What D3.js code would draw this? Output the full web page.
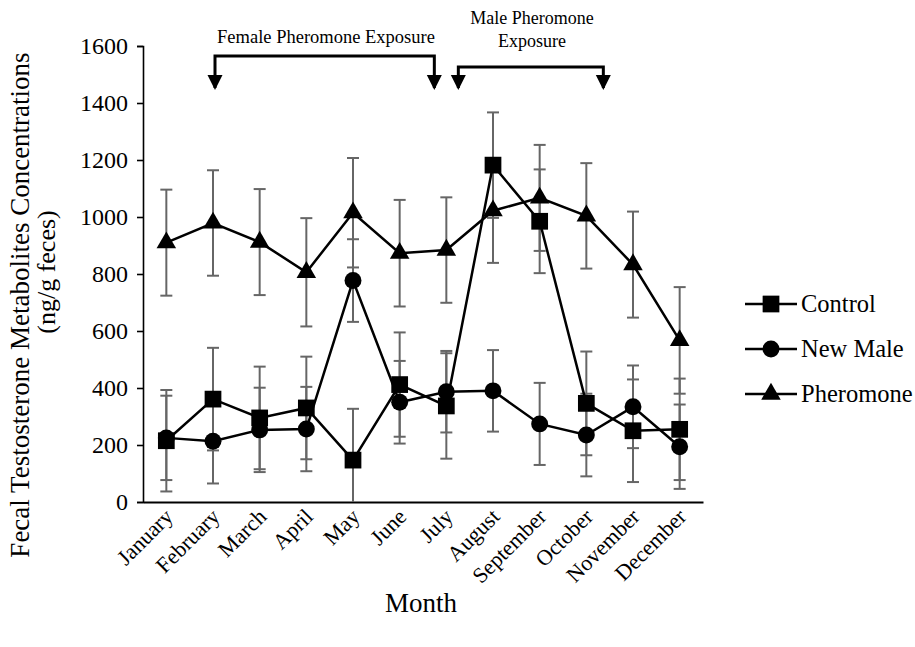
<!DOCTYPE html>
<html>
<head>
<meta charset="utf-8">
<script src="https://cdn.jsdelivr.net/npm/d3@7"></script>
<style>
  body { margin: 0; background: #fff; }
  svg text { font-family: "Liberation Serif", "Times New Roman", serif; fill: #000; }
</style>
</head>
<body>
<div id="chart"></div>
<script>
// Data
var months = ["January", "February", "March", "April", "May", "June",
              "July", "August", "September", "October", "November", "December"];
var yTicks = [0, 200, 400, 600, 800, 1000, 1200, 1400, 1600];

var controlMean = [215, 361, 295, 330, 147, 412, 337, 1182, 985, 346, 250, 255];
var controlErr  = [178, 180, 180, 180, 180, 183, 185, 185, 182, 182, 180, 178];

var newMaleMean = [225, 213, 253, 256, 777, 350, 387, 390, 274, 235, 334, 194];
var newMaleErr  = [148, 148, 148, 148, 145, 145, 143, 143, 144, 145, 145, 148];

var pheromoneMean = [910, 979, 912, 806, 1015, 873, 884, 1022, 1067, 1004, 833, 567];
var pheromoneErr  = [186, 185, 186, 190, 192, 187, 185, 183, 186, 185, 186, 187];

var seriesNames = ["Control", "New Male", "Pheromone"];

var serif = "'Liberation Serif', 'Times New Roman', serif";

// Set up the chart
var svgWidth = 915;
var svgHeight = 647;

var svg = d3.select("#chart")
    .append("svg")
    .attr("width", svgWidth)
    .attr("height", svgHeight);

var xScale = d3.scaleBand()
    .domain(months)
    .range([143, 703]);

var yScale = d3.scaleLinear()
    .domain([0, 1600])
    .range([502, 46])
    .clamp(true);

var cx = function(m) { return xScale(m) + xScale.bandwidth() / 2; };

var series = [
    { name: "Control", mean: controlMean, err: controlErr, shape: d3.symbolSquare },
    { name: "New Male", mean: newMaleMean, err: newMaleErr, shape: d3.symbolCircle },
    { name: "Pheromone", mean: pheromoneMean, err: pheromoneErr, shape: d3.symbolTriangle }
];
var symbolSize = { "Control": 280, "New Male": 225, "Pheromone": 165 };

// Axes
var leftAxis = d3.axisLeft(yScale)
    .tickValues(yTicks)
    .tickFormat(d3.format("d"))
    .tickSize(6)
    .tickPadding(9);
var yAxisG = svg.append("g")
    .attr("transform", "translate(143,0)")
    .call(leftAxis)
    .attr("font-family", serif);
yAxisG.select(".domain").attr("stroke", "#000").attr("stroke-width", 1.6);
yAxisG.selectAll(".tick line").attr("stroke", "#000").attr("stroke-width", 1.6);
yAxisG.selectAll(".tick text")
    .style("font-family", serif)
    .style("font-size", "24px");

var bottomAxis = d3.axisBottom(xScale).tickSize(0).tickFormat("");
var xAxisG = svg.append("g")
    .attr("transform", "translate(0,502)")
    .call(bottomAxis);
xAxisG.select(".domain").attr("stroke", "#000").attr("stroke-width", 2);

svg.selectAll(".monthLabel")
    .data(months)
    .enter()
    .append("text")
    .attr("class", "monthLabel")
    .attr("transform", d => `translate(${cx(d) + 8}, 518) rotate(-45)`)
    .attr("text-anchor", "end")
    .style("font-family", serif)
    .style("font-size", "22px")
    .text(d => d);

// Error bars
var capHalf = 6;
series.forEach(function(s) {
    var g = svg.append("g").attr("class", "err");
    months.forEach(function(m, i) {
        var x = cx(m);
        var lo = s.mean[i] - s.err[i];
        var hi = s.mean[i] + s.err[i];
        g.append("line")
            .attr("x1", x).attr("x2", x)
            .attr("y1", yScale(lo)).attr("y2", yScale(hi))
            .attr("stroke", "#666").attr("stroke-width", 2);
        g.append("line")
            .attr("x1", x - capHalf).attr("x2", x + capHalf)
            .attr("y1", yScale(hi)).attr("y2", yScale(hi))
            .attr("stroke", "#666").attr("stroke-width", 2);
        if (lo > 0) {
            g.append("line")
                .attr("x1", x - capHalf).attr("x2", x + capHalf)
                .attr("y1", yScale(lo)).attr("y2", yScale(lo))
                .attr("stroke", "#666").attr("stroke-width", 2);
        }
    });
});

// Lines
var line = d3.line()
    .x((d, i) => cx(months[i]))
    .y(d => yScale(d));

series.forEach(function(s) {
    svg.append("path")
        .datum(s.mean)
        .attr("d", line)
        .attr("fill", "none")
        .attr("stroke", "#000")
        .attr("stroke-width", 2.5);
});

// Markers
series.forEach(function(s) {
    svg.append("g").selectAll("path")
        .data(s.mean)
        .enter()
        .append("path")
        .attr("transform", (d, i) => `translate(${cx(months[i])}, ${yScale(d)})`)
        .attr("d", d3.symbol().type(s.shape).size(symbolSize[s.name]))
        .attr("fill", "#000");
});

// Legend
var legend = svg.append("g").attr("class", "legend");
var legendY = [304, 349, 394];
series.forEach(function(s, i) {
    var y = legendY[i];
    legend.append("line")
        .attr("x1", 745).attr("x2", 797)
        .attr("y1", y).attr("y2", y)
        .attr("stroke", "#000").attr("stroke-width", 2.5);
    legend.append("path")
        .attr("transform", `translate(771, ${y})`)
        .attr("d", d3.symbol().type(s.shape).size(symbolSize[s.name]))
        .attr("fill", "#000");
    legend.append("text")
        .attr("x", 801)
        .attr("y", y + 8)
        .style("font-family", serif)
        .style("font-size", "24.5px")
        .text(seriesNames[i]);
});

// Axis titles
svg.append("text")
    .attr("x", 421)
    .attr("y", 612)
    .attr("text-anchor", "middle")
    .style("font-family", serif)
    .style("font-size", "27px")
    .text("Month");

svg.append("text")
    .attr("transform", "translate(29, 305) rotate(-90)")
    .attr("text-anchor", "middle")
    .style("font-family", serif)
    .style("font-size", "27px")
    .text("Fecal Testosterone Metabolites Concentrations");

svg.append("text")
    .attr("transform", "translate(55, 272) rotate(-90)")
    .attr("text-anchor", "middle")
    .style("font-family", serif)
    .style("font-size", "26px")
    .text("(ng/g feces)");

// Exposure annotations
function bracket(x1, x2, yTop) {
    var g = svg.append("g");
    g.append("path")
        .attr("d", `M${x1},88 L${x1},${yTop} L${x2},${yTop} L${x2},88`)
        .attr("fill", "none")
        .attr("stroke", "#000")
        .attr("stroke-width", 3);
    [x1, x2].forEach(function(x) {
        g.append("path")
            .attr("d", `M${x - 7.5},75 L${x + 7.5},75 L${x},90 Z`)
            .attr("fill", "#000");
    });
}
bracket(cx("February") + 2, cx("July") - 12, 56);
bracket(cx("July") + 12, cx("October") + 17, 67);

svg.append("text")
    .attr("x", 326)
    .attr("y", 43)
    .attr("text-anchor", "middle")
    .style("font-family", serif)
    .style("font-size", "18.5px")
    .text("Female Pheromone Exposure");

svg.append("text")
    .attr("x", 532)
    .attr("y", 24)
    .attr("text-anchor", "middle")
    .style("font-family", serif)
    .style("font-size", "18px")
    .text("Male Pheromone");

svg.append("text")
    .attr("x", 532)
    .attr("y", 47)
    .attr("text-anchor", "middle")
    .style("font-family", serif)
    .style("font-size", "18px")
    .text("Exposure");
</script>
</body>
</html>
